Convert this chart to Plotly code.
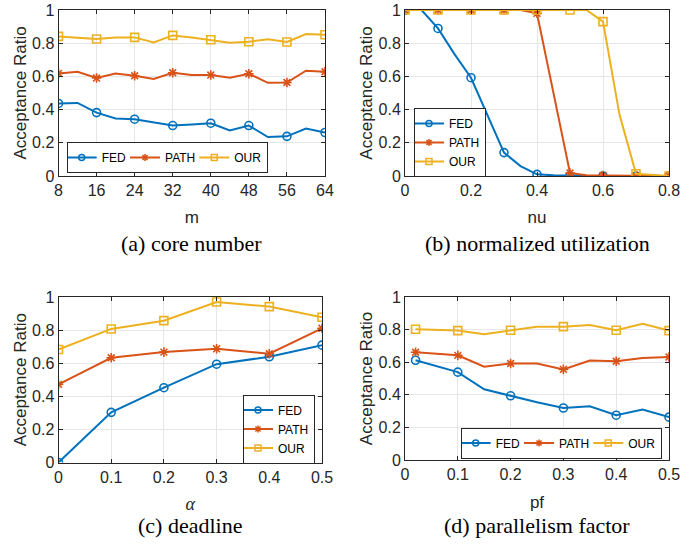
import plotly.graph_objects as go

# ---------------- data ----------------
series_names = ["FED", "PATH", "OUR"]

a_x = [8, 12, 16, 20, 24, 28, 32, 36, 40, 44, 48, 52, 56, 60, 64]
a_fed = [0.437, 0.44, 0.382, 0.346, 0.342, 0.322, 0.304, 0.31, 0.318, 0.274, 0.304, 0.235, 0.239, 0.286, 0.262]
a_path = [0.618, 0.628, 0.59, 0.618, 0.604, 0.585, 0.622, 0.608, 0.608, 0.592, 0.616, 0.561, 0.563, 0.634, 0.628]
a_our = [0.841, 0.833, 0.825, 0.835, 0.835, 0.805, 0.847, 0.835, 0.821, 0.803, 0.809, 0.823, 0.807, 0.855, 0.851]
a_marked = [0, 2, 4, 6, 8, 10, 12, 14]

b_x = [0, 0.05, 0.1, 0.15, 0.2, 0.25, 0.3, 0.35, 0.4, 0.45, 0.5, 0.55, 0.6, 0.65, 0.7, 0.75, 0.8]
b_fed = [1.0, 1.0, 0.889, 0.734, 0.592, 0.37, 0.141, 0.06, 0.01, 0.004, 0.0, 0.0, 0.0, 0.0, 0.0, 0.0, 0.0]
b_path = [1.0, 1.0, 1.0, 1.0, 1.0, 1.0, 1.0, 1.0, 0.98, 0.5, 0.018, 0.005, 0.003, 0.0, 0.0, 0.0, 0.0]
b_our = [1.0, 1.0, 1.0, 1.0, 1.0, 1.0, 1.0, 1.0, 1.0, 1.0, 1.0, 1.0, 0.93, 0.37, 0.014, 0.005, 0.0]
b_marked = [0, 2, 4, 6, 8, 10, 12, 14, 16]

c_x = [0, 0.1, 0.2, 0.3, 0.4, 0.5]
c_fed = [0.0, 0.303, 0.452, 0.594, 0.639, 0.709]
c_path = [0.472, 0.633, 0.667, 0.687, 0.657, 0.811]
c_our = [0.683, 0.807, 0.857, 0.97, 0.942, 0.878]
c_marked = [0, 1, 2, 3, 4, 5]

d_x = [0.02, 0.1, 0.15, 0.2, 0.25, 0.3, 0.35, 0.4, 0.45, 0.5]
d_fed = [0.612, 0.539, 0.434, 0.394, 0.354, 0.319, 0.329, 0.275, 0.309, 0.263]
d_path = [0.661, 0.642, 0.572, 0.592, 0.592, 0.556, 0.61, 0.606, 0.626, 0.632]
d_our = [0.802, 0.794, 0.772, 0.796, 0.818, 0.818, 0.828, 0.796, 0.836, 0.794]
d_marked = [0, 1, 3, 5, 7, 9]

captions = ["(a) core number", "(b) normalized utilization", "(c) deadline", "(d) parallelism factor"]
x_titles = ["m", "nu", "<i>α</i>", "pf"]
y_title = "Acceptance Ratio"

# ---------------- style ----------------
colors = ["#0072BD", "#D95319", "#EDB120"]
symbols = ["circle-open", "asterisk-open", "square-open"]
W, H = 680, 547
AX = "#262626"
GRID = "#e6e6e6"
SANS = "Liberation Sans, Arial, Helvetica, sans-serif"
SERIF = "Liberation Serif, Times New Roman, serif"

def px2x(p):
    return p / W

def px2y(p):
    return 1 - p / H

panels = [
    dict(x=a_x, ys=[a_fed, a_path, a_our], marked=a_marked, xr=[8, 64], xt=[8, 16, 24, 32, 40, 48, 56, 64],
         dom_x=(58.5, 325), dom_y=(10, 176), xstand=12,
         leg=dict(x=66.7, y=157.5, xa="left", ya="middle", orient="h"), cap_y=244),
    dict(x=b_x, ys=[b_fed, b_path, b_our], marked=b_marked, xr=[0, 0.8], xt=[0, 0.2, 0.4, 0.6, 0.8],
         dom_x=(405, 669), dom_y=(10, 176), xstand=12,
         leg=dict(x=414, y=142.5, xa="left", ya="middle", orient="v"), cap_y=244),
    dict(x=c_x, ys=[c_fed, c_path, c_our], marked=c_marked, xr=[0, 0.5], xt=[0, 0.1, 0.2, 0.3, 0.4, 0.5],
         dom_x=(58.5, 322), dom_y=(297, 462.5), xstand=12,
         leg=dict(x=315, y=429, xa="right", ya="middle", orient="v"), cap_y=525),
    dict(x=d_x, ys=[d_fed, d_path, d_our], marked=d_marked, xr=[0, 0.5], xt=[0, 0.1, 0.2, 0.3, 0.4, 0.5],
         dom_x=(405, 669), dom_y=(297, 460), xstand=13,
         leg=dict(x=661.7, y=443, xa="right", ya="middle", orient="h"), cap_y=525),
]

fig = go.Figure()
layout = dict(width=W, height=H, margin=dict(l=0, r=0, t=0, b=0, autoexpand=False),
              plot_bgcolor="white", paper_bgcolor="white", annotations=[])

for i, p in enumerate(panels):
    n = i + 1
    xa = "x" if n == 1 else f"x{n}"
    ya = "y" if n == 1 else f"y{n}"
    lg = "legend" if n == 1 else f"legend{n}"
    for s in range(3):
        ys = p["ys"][s]
        fig.add_trace(go.Scatter(x=p["x"], y=ys, mode="lines", xaxis=xa, yaxis=ya,
                                 line=dict(color=colors[s], width=2), showlegend=False,
                                 hoverinfo="skip"))
        mx = [p["x"][k] for k in p["marked"]]
        my = [ys[k] for k in p["marked"]]
        fig.add_trace(go.Scatter(x=mx, y=my, mode="markers", xaxis=xa, yaxis=ya,
                                 marker=dict(symbol=symbols[s], size=8, color=colors[s],
                                             line=dict(color=colors[s], width=1.6)),
                                 showlegend=False))
        fig.add_trace(go.Scatter(x=[None], y=[None], mode="lines+markers", xaxis=xa, yaxis=ya,
                                 name=series_names[s], legend=lg,
                                 line=dict(color=colors[s], width=2),
                                 marker=dict(symbol=symbols[s], size=6, color=colors[s],
                                             line=dict(color=colors[s], width=1.5))))
    axkey_x = "xaxis" if n == 1 else f"xaxis{n}"
    axkey_y = "yaxis" if n == 1 else f"yaxis{n}"
    common = dict(showline=True, linecolor=AX, linewidth=1, mirror="ticks", ticks="inside",
                  ticklen=4, tickcolor=AX, showgrid=True, gridcolor=GRID, gridwidth=1,
                  zeroline=False, automargin=False, ticklabeloverflow="allow",
                  tickfont=dict(family=SANS, size=16, color=AX))
    layout[axkey_x] = dict(common, domain=[px2x(p["dom_x"][0]), px2x(p["dom_x"][1])],
                           range=p["xr"], tickvals=p["xt"], anchor=ya,
                           title=dict(text=x_titles[i],
                                      font=dict(family=SERIF if i == 2 else SANS, size=18 if i == 2 else 17, color=AX),
                                      standoff=p["xstand"]))
    layout[axkey_y] = dict(common, domain=[px2y(p["dom_y"][1]), px2y(p["dom_y"][0])],
                           range=[0, 1], tickvals=[0, 0.2, 0.4, 0.6, 0.8, 1], anchor=xa,
                           title=dict(text=y_title, font=dict(family=SANS, size=17, color=AX), standoff=1))
    L = p["leg"]
    layout[lg] = dict(x=px2x(L["x"]), y=px2y(L["y"]), xanchor=L["xa"], yanchor=L["ya"],
                      orientation=L["orient"], bgcolor="white", bordercolor=AX, borderwidth=1,
                      font=dict(family=SANS, size=12, color="black"),
                      itemwidth=30, tracegroupgap=0, indentation=-6)
    cx = (p["dom_x"][0] + p["dom_x"][1]) / 2
    layout["annotations"].append(dict(text=captions[i], x=px2x(cx), y=px2y(p["cap_y"]), xref="paper", yref="paper",
                                      showarrow=False, xanchor="center", yanchor="middle",
                                      font=dict(family=SERIF, size=22, color="black")))

fig.update_layout(**layout)
fig.write_html("out.html", config={"displayModeBar": False},
               post_script="document.body.style.margin='0';document.body.style.padding='0';")
